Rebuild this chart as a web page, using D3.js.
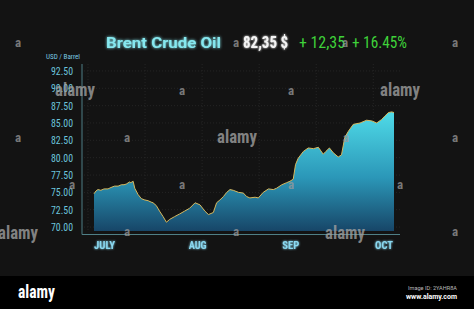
<!DOCTYPE html>
<html><head><meta charset="utf-8">
<script src="https://cdn.jsdelivr.net/npm/d3@7"></script>
<style>
html,body{margin:0;padding:0;background:#131313;}
svg{display:block;}
</style></head>
<body>
<svg id="c" width="474" height="309"></svg>
<script>
// ---- data ----
const months = ["JULY", "AUG", "SEP", "OCT"];
const yTicks = [70, 72.5, 75, 77.5, 80, 82.5, 85, 87.5, 90, 92.5];
const days = [0,0.6,1.2,2.1,3.1,4.3,5.2,6.3,7.4,8.4,9.2,9.9,10.9,11.3,12.0,12.5,13.5,14.5,15.6,16.6,17.5,18.1,19.1,20.1,21.2,22.2,23.2,24.7,26.3,27.8,29.3,31.0,32.5,34.0,35.1,36.6,37.6,38.6,39.7,40.7,41.7,42.7,44.3,45.8,46.8,47.8,49.4,50.4,51.9,53.5,55.0,56.0,57.6,59.1,60.1,61.1,61.8,62.6,64.2,65.7,67.3,68.8,70.3,71.1,72.2,73.4,74.9,75.9,76.9,78.0,79.5,81.6,83.6,85.2,86.7,88.2,89.2,90.3,91.3,92.0];
const prices = [74.8,75.2,75.4,75.3,75.5,75.5,75.7,75.9,75.9,76.1,76.1,76.2,76.5,76.4,76.6,75.6,74.7,74.1,73.9,73.8,73.6,73.5,73.1,72.3,71.5,70.7,71.1,71.5,71.9,72.3,72.7,73.5,73.2,72.3,71.8,72.1,73.5,73.9,74.4,75.0,75.4,75.3,75.0,74.9,74.4,74.2,74.3,74.2,75.0,75.5,75.4,75.6,76.1,76.4,76.6,76.9,79.0,79.9,80.9,81.4,81.3,81.5,80.5,80.9,81.4,80.7,80.1,80.4,82.9,83.8,84.8,85.0,85.4,85.3,85.0,85.5,86.0,86.5,86.6,86.5];
const title = "Brent Crude Oil";
const priceText = "82,35 $";
const changeText = "+ 12,35";
const pctText = "+ 16.45%";
const unitText = "USD / Barrel";

const svg = d3.select("#c");
const defs = svg.append("defs");
const glow = defs.append("filter").attr("id","glow").attr("x","-20%").attr("y","-50%").attr("width","140%").attr("height","200%");
glow.append("feGaussianBlur").attr("in","SourceGraphic").attr("stdDeviation",1.6).attr("result","b");
const fm = glow.append("feMerge");
fm.append("feMergeNode").attr("in","b");
fm.append("feMergeNode").attr("in","SourceGraphic");
const glow2 = defs.append("filter").attr("id","glow2").attr("x","-20%").attr("y","-50%").attr("width","140%").attr("height","200%");
glow2.append("feGaussianBlur").attr("in","SourceGraphic").attr("stdDeviation",0.9).attr("result","b");
const fm2 = glow2.append("feMerge");
fm2.append("feMergeNode").attr("in","b");
fm2.append("feMergeNode").attr("in","SourceGraphic");

const grad = defs.append("linearGradient").attr("id","fill").attr("gradientUnits","userSpaceOnUse")
  .attr("x1",0).attr("x2",0).attr("y1",112).attr("y2",231);
grad.append("stop").attr("offset",0).attr("stop-color","#4fdbe8");
grad.append("stop").attr("offset",0.55).attr("stop-color","#2b97b8");
grad.append("stop").attr("offset",1).attr("stop-color","#174668");

svg.append("rect").attr("width",474).attr("height",309).attr("fill","#131313");

const x = d3.scaleLinear().domain([0, 92]).range([94, 394]);
const y = d3.scaleLinear().domain([69, 93.5]).range([234, 64]);
const xm = d3.scalePoint().domain(months).range([104.5, 384]);

const cond = "'Roboto Condensed','Liberation Sans Narrow','DejaVu Sans Condensed',Roboto,sans-serif";

// grid (faint dotted)
const g = svg.append("g");
g.selectAll("line.h").data(yTicks).join("line")
  .attr("x1",84).attr("x2",400).attr("y1",d=>y(d)).attr("y2",d=>y(d))
  .attr("stroke","#2a2a2a").attr("stroke-width",0.8).attr("stroke-dasharray","1,2");
g.selectAll("line.v").data(d3.range(0, 93, 17.5)).join("line")
  .attr("x1",d=>x(d)-6).attr("x2",d=>x(d)-6).attr("y1",64).attr("y2",232)
  .attr("stroke","#2a2a2a").attr("stroke-width",0.8).attr("stroke-dasharray","1,2");

const data = days.map((d,i)=>({d, v: prices[i]}));
const area = d3.area().x(p=>x(p.d)).y0(y(69.45)).y1(p=>y(p.v));
const line = d3.line().x(p=>x(p.d)).y(p=>y(p.v));
svg.append("path").datum(data).attr("d",area).attr("fill","url(#fill)");
svg.append("path").datum(data).attr("d",line).attr("fill","none").attr("stroke","#d6b85e").attr("stroke-width",1);

// axes lines
svg.append("line").attr("x1",82).attr("x2",82).attr("y1",64).attr("y2",234.5).attr("stroke","#4f7f86").attr("stroke-width",1);
svg.append("line").attr("x1",82).attr("x2",400).attr("y1",234.5).attr("y2",234.5).attr("stroke","#4f7f86").attr("stroke-width",1);

// y tick labels
svg.selectAll("text.yt").data(yTicks).join("text")
  .attr("x",73).attr("y",d=>y(d)+4).attr("text-anchor","end")
  .attr("font-family",cond).attr("font-size",11).attr("fill","#6cc3dc")
  .attr("textLength",22).attr("lengthAdjust","spacingAndGlyphs")
  .text(d=>d.toFixed(2));
svg.append("text").attr("x",46).attr("y",58.5).attr("font-family",cond).attr("font-size",7.5)
  .attr("fill","#7cc9e2").attr("textLength",34).attr("lengthAdjust","spacingAndGlyphs").text(unitText);

// month labels
const mw = {JULY:21, AUG:18, SEP:17, OCT:18};
svg.selectAll("text.m").data(months).join("text")
  .attr("x",d=>xm(d)).attr("y",249).attr("text-anchor","middle")
  .attr("font-family",cond).attr("font-weight","bold").attr("font-size",11.5).attr("fill","#8ad8f0")
  .attr("textLength",d=>mw[d]).attr("lengthAdjust","spacingAndGlyphs")
  .attr("filter","url(#glow2)").text(d=>d);

// header
svg.append("text").attr("x",106).attr("y",47.5).attr("font-family","Roboto,sans-serif").attr("font-weight","bold")
  .attr("font-size",15).attr("fill","#86e8ef").attr("textLength",115).attr("lengthAdjust","spacingAndGlyphs")
  .attr("filter","url(#glow)").text(title);
svg.append("text").attr("x",243).attr("y",48).attr("font-family",cond).attr("font-weight","bold")
  .attr("font-size",16).attr("fill","#f4f4f4").attr("textLength",45).attr("lengthAdjust","spacingAndGlyphs")
  .attr("filter","url(#glow2)").text(priceText);
svg.append("text").attr("x",299).attr("y",48).attr("font-family",cond)
  .attr("font-size",16).attr("fill","#3fd23a").attr("textLength",46).attr("lengthAdjust","spacingAndGlyphs")
  .text(changeText);
svg.append("text").attr("x",352).attr("y",48).attr("font-family",cond)
  .attr("font-size",16).attr("fill","#3fd23a").attr("textLength",55).attr("lengthAdjust","spacingAndGlyphs")
  .text(pctText);

// watermark overlay
const wmA = [[18,42],[236,42],[345,42],[455,42],[182,90],[291,90],[18,137],[127,137],[346,137],[455,137],
  [72,184],[182,184],[291,184],[400,184],[127,231],[236,231],[455,231],[72,279],[182,279],[291,279],[400,279]];
svg.selectAll("text.wa").data(wmA).join("text")
  .attr("x",d=>d[0]).attr("y",d=>d[1]+4.5).attr("text-anchor","middle")
  .attr("font-family",cond).attr("font-weight","bold").attr("font-size",13)
  .attr("fill","#9a9a9a").attr("fill-opacity",0.75).text("a");
const wmL = [[75,90],[400,90],[237,137],[18,233],[345,233]];
svg.selectAll("text.wl").data(wmL).join("text")
  .attr("x",d=>d[0]).attr("y",d=>d[1]+6).attr("text-anchor","middle")
  .attr("font-family",cond).attr("font-weight","bold").attr("font-size",19)
  .attr("textLength",40).attr("lengthAdjust","spacingAndGlyphs")
  .attr("fill","#a0a0a0").attr("fill-opacity",0.8).text("alamy");

// bottom band
svg.append("rect").attr("x",0).attr("y",276).attr("width",474).attr("height",33).attr("fill","#000");
svg.append("text").attr("x",18).attr("y",298).attr("font-family",cond).attr("font-weight","bold")
  .attr("font-size",19).attr("fill","#fff").attr("textLength",37).attr("lengthAdjust","spacingAndGlyphs").text("alamy");
svg.append("text").attr("x",457).attr("y",289.5).attr("text-anchor","end").attr("font-family","Roboto,sans-serif")
  .attr("font-size",6).attr("fill","#bbb").attr("textLength",49).attr("lengthAdjust","spacingAndGlyphs").text("Image ID: 2YAHR8A");
svg.append("text").attr("x",457).attr("y",298.5).attr("text-anchor","end").attr("font-family","Roboto,sans-serif")
  .attr("font-weight","bold").attr("font-size",7).attr("fill","#fff").attr("textLength",51).attr("lengthAdjust","spacingAndGlyphs").text("www.alamy.com");
</script>
</body></html>
